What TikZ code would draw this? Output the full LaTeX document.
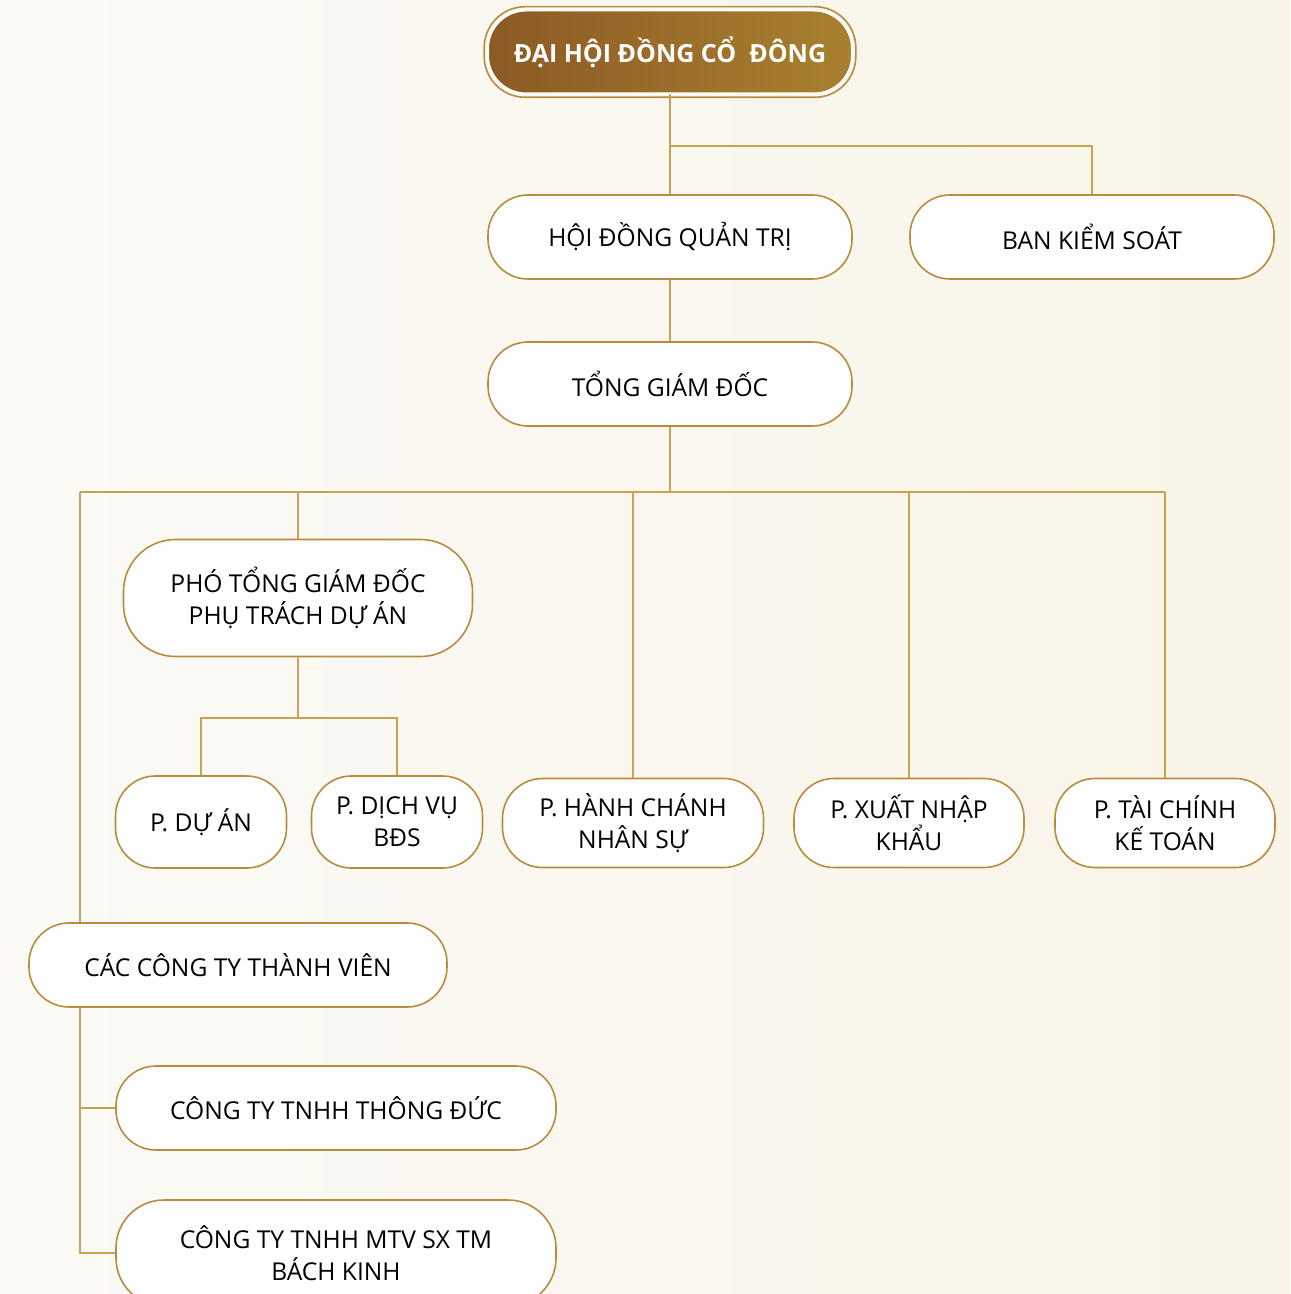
\documentclass[tikz,border=0pt]{standalone}
\usepackage{fontspec}
\setmainfont{Open Sans}
\usetikzlibrary{positioning}
\definecolor{linegold}{HTML}{C9A352}
\definecolor{boxgold}{HTML}{B98B3E}
\definecolor{brownA}{HTML}{8C5A25}
\definecolor{brownB}{HTML}{C39C4F}
\definecolor{brownC}{HTML}{A8812F}
\definecolor{paperL}{HTML}{FBFAF6}
\definecolor{paperR}{HTML}{F8F4E7}
\tikzset{
  orgbox/.style={draw=boxgold,line width=0.8pt,fill=white,rounded corners=20pt,align=center,
    inner sep=0pt,font=\fontsize{12.3}{16}\selectfont},
  link/.style={draw=linegold,line width=0.8pt},
}

\begin{document}
\begin{tikzpicture}[x=0.5pt,y=-0.5pt]
      \path[clip] (0,0) rectangle (1290,1294);
      \fill[left color=paperL,right color=paperR] (0,0) rectangle (1290,1294);

      % top level
      \node[orgbox,draw=white,line width=1pt,left color=brownA,middle color=brownB,right color=brownC,
        minimum width=182pt,minimum height=41.5pt,rounded corners=19pt,text=white,
        font=\fontsize{12.5}{16}\selectfont\bfseries] (dhcd) at (670,52) {ĐẠI HỘI ĐỒNG CỔ\ \ ĐÔNG};
      \draw[boxgold,line width=0.8pt,rounded corners=20.5pt] ([xshift=-1.4pt,yshift=1.4pt]dhcd.north west) rectangle ([xshift=1.4pt,yshift=-1.4pt]dhcd.south east);

      \node[orgbox,minimum width=182pt,minimum height=42pt] (hdqt) at (670,237) {HỘI ĐỒNG QUẢN TRỊ};
      \node[orgbox,minimum width=182pt,minimum height=42pt] (bks) at (1092,237) {BAN KIỂM SOÁT};
      \node[orgbox,minimum width=182pt,minimum height=42pt] (tgd) at (670,384) {TỔNG GIÁM ĐỐC};

      % second level
      \node[orgbox,minimum width=174.5pt,minimum height=58.5pt,rounded corners=26pt] (ptgd) at (298,598) {PHÓ TỔNG GIÁM ĐỐC\\PHỤ TRÁCH DỰ ÁN};
      \node[orgbox,minimum width=85.5pt,minimum height=46pt] (pda) at (201,822) {P. DỰ ÁN};
      \node[orgbox,minimum width=85.5pt,minimum height=46pt] (pdv) at (397,822) {P. DỊCH VỤ\\BĐS};
      \node[orgbox,minimum width=130.5pt,minimum height=44.5pt] (phc) at (633,823) {P. HÀNH CHÁNH\\NHÂN SỰ};
      \node[orgbox,minimum width=115pt,minimum height=44.5pt] (xnk) at (909,823) {P. XUẤT NHẬP\\KHẨU};
      \node[orgbox,minimum width=110pt,minimum height=44.5pt] (tckt) at (1165,823) {P. TÀI CHÍNH\\KẾ TOÁN};

      % member companies
      \node[orgbox,minimum width=209pt,minimum height=42pt] (ctv) at (238,965) {CÁC CÔNG TY THÀNH VIÊN};
      \node[orgbox,minimum width=220pt,minimum height=42pt] (ttd) at (336,1108) {CÔNG TY TNHH THÔNG ĐỨC};
      \node[orgbox,minimum width=220pt,minimum height=53pt,rounded corners=24pt] (bk) at (336,1253) {CÔNG TY TNHH MTV SX TM\\BÁCH KINH};

      % connectors
      \coordinate (top) at (670,146);
      \coordinate (busL) at (80,492);
      \coordinate (busR) at (1165,492);
      \coordinate (sub) at (298,718);

      \draw[link] (dhcd.south) -- (hdqt.north);
      \draw[link] (top) -| (bks.north);
      \draw[link] (hdqt.south) -- (tgd.north);
      \draw[link] (tgd.south) -- (tgd.south |- busL);
      \draw[link] (busL) -- (busR);
      \draw[link] (busL) -- (busL |- ctv.north);
      \draw[link] (ptgd.north) -- (ptgd.north |- busL);
      \draw[link] (phc.north) -- (phc.north |- busL);
      \draw[link] (xnk.north) -- (xnk.north |- busL);
      \draw[link] (tckt.north) -- (busR);

      \draw[link] (ptgd.south) -- (sub);
      \draw[link] (pda.north) |- (sub) -| (pdv.north);

      \draw[link] (busL |- ctv.south) -- (busL |- bk.west) -- (bk.west);
      \draw[link] (busL |- ttd.west) -- (ttd.west);
\end{tikzpicture}
\end{document}
